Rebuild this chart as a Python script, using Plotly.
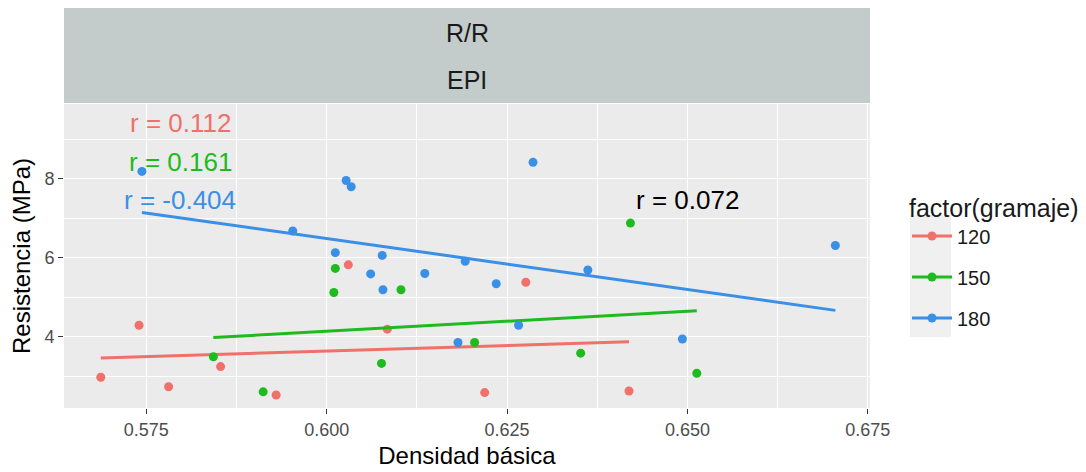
import numpy as np
import plotly.graph_objects as go

# ---- data ----
groups = ["120", "150", "180"]
colors = ["#F0706A", "#1DBB1D", "#3A8FE6"]

x_120 = [0.5687, 0.5740, 0.5781, 0.5853, 0.5930, 0.6030, 0.6084, 0.6219, 0.6276, 0.6419]
y_120 = [2.97, 4.29, 2.73, 3.24, 2.52, 5.82, 4.19, 2.58, 5.38, 2.62]

x_150 = [0.5843, 0.5912, 0.6012, 0.6010, 0.6103, 0.6076, 0.6205, 0.6352, 0.6421, 0.6513]
y_150 = [3.49, 2.60, 5.73, 5.12, 5.19, 3.32, 3.85, 3.58, 6.88, 3.07]

x_180 = [0.5744, 0.5953, 0.6012, 0.6027, 0.6034, 0.6077, 0.6061, 0.6078, 0.6136,
         0.6192, 0.6235, 0.6182, 0.6266, 0.6286, 0.6362, 0.6493, 0.6705]
y_180 = [8.19, 6.68, 6.13, 7.96, 7.80, 6.06, 5.59, 5.19, 5.60,
         5.91, 5.34, 3.85, 4.29, 8.42, 5.69, 3.94, 6.31]

r_labels = ["r = 0.112", "r = 0.161", "r = -0.404"]
r_overall = "r = 0.072"

x_ticks = [0.575, 0.600, 0.625, 0.650, 0.675]
x_tick_text = ["0.575", "0.600", "0.625", "0.650", "0.675"]
y_ticks = [4, 6, 8]
strip_labels = ["R/R", "EPI"]

xs = [x_120, x_150, x_180]
ys = [y_120, y_150, y_180]

FONT = "Liberation Sans, Arial, sans-serif"

# page has an 8px body margin: figure origin sits at (8, 8) in the screenshot
OFF = 8
W, H = 1086 - OFF, 472 - OFF
ml, mr, mt, mb = 56, 216, 96, 64
ph = H - mt - mb
pw = W - ml - mr
def fy(page_y):
    return (H - mb - (page_y - OFF)) / ph
def fx(page_x):
    return (page_x - OFF - ml) / pw

fig = go.Figure()

for g, c, x, y in zip(groups, colors, xs, ys):
    xa = np.array(x)
    ya = np.array(y)
    slope, intercept = np.polyfit(xa, ya, 1)
    xl = np.array([xa.min(), xa.max()])
    fig.add_trace(go.Scatter(x=xa, y=ya, mode="markers",
                             marker=dict(color=c, size=9),
                             showlegend=False, legendgroup=g, hoverinfo="x+y"))
    fig.add_trace(go.Scatter(x=xl, y=slope * xl + intercept, mode="lines",
                             line=dict(color=c, width=3),
                             showlegend=False, legendgroup=g, hoverinfo="skip"))
    fig.add_trace(go.Scatter(x=[None], y=[None], mode="lines+markers",
                             line=dict(color=c, width=3),
                             marker=dict(color=c, size=9),
                             name=g, legendgroup=g, showlegend=True))

# correlation labels
label_y = [9.42, 8.43, 7.47]
for txt, c, yy in zip(r_labels, colors, label_y):
    fig.add_annotation(x=0.5797, y=yy, text=txt, showarrow=False,
                       font=dict(color=c, size=26, family=FONT),
                       xanchor="center", yanchor="middle")
fig.add_annotation(x=0.6500, y=7.47, text=r_overall, showarrow=False,
                   font=dict(color="black", size=26, family=FONT),
                   xanchor="center", yanchor="middle")

# strips (paper coords above the panel)
fig.add_shape(type="rect", xref="paper", yref="paper", x0=0, x1=1,
              y0=fy(103), y1=fy(8), fillcolor="#C3CBCB", line=dict(width=0), layer="below")
fig.add_annotation(xref="paper", yref="paper", x=0.5, y=fy(33), text=strip_labels[0],
                   showarrow=False, font=dict(size=25, color="#1a1a1a", family=FONT),
                   xanchor="center", yanchor="middle")
fig.add_annotation(xref="paper", yref="paper", x=0.5, y=fy(80), text=strip_labels[1],
                   showarrow=False, font=dict(size=25, color="#1a1a1a", family=FONT),
                   xanchor="center", yanchor="middle")

# legend key background
fig.add_shape(type="rect", xref="paper", yref="paper", x0=fx(910), x1=fx(951),
              y0=fy(337), y1=fy(215), fillcolor="#F0F0F0", line=dict(width=0), layer="below")

fig.update_layout(
    width=W, height=H,
    margin=dict(l=ml, r=mr, t=mt, b=mb, autoexpand=False),
    paper_bgcolor="white",
    plot_bgcolor="#EBEBEB",
    font=dict(family=FONT, color="#1a1a1a"),
    legend=dict(title=dict(text="factor(gramaje)", font=dict(size=25)),
                font=dict(size=20), x=fx(907), y=fy(184), xanchor="left", yanchor="top",
                tracegroupgap=12, bgcolor="rgba(0,0,0,0)", itemwidth=40),
    xaxis=dict(range=[0.5636, 0.6753], tickvals=x_ticks, ticktext=x_tick_text,
               automargin=False,
               showgrid=True, gridcolor="white", gridwidth=1.3, zeroline=False,
               ticks="outside", ticklen=5, tickcolor="#333333",
               tickfont=dict(size=18, color="#4D4D4D"),
               minor=dict(tickvals=[0.5875, 0.6125, 0.6375, 0.6625], showgrid=True,
                          gridcolor="white", gridwidth=0.6, ticks=""),
               title=dict(text="Densidad básica", font=dict(size=24, color="black"), standoff=8)),
    yaxis=dict(range=[2.19, 9.90], tickvals=y_ticks,
               automargin=False,
               showgrid=True, gridcolor="white", gridwidth=1.3, zeroline=False,
               ticks="outside", ticklen=5, tickcolor="#333333",
               tickfont=dict(size=18, color="#4D4D4D"),
               minor=dict(tickvals=[3, 5, 7, 9], showgrid=True,
                          gridcolor="white", gridwidth=0.6, ticks=""),
               title=dict(text="Resistencia (MPa)", font=dict(size=24, color="black"), standoff=8)),
)

fig.write_html("out.html")
